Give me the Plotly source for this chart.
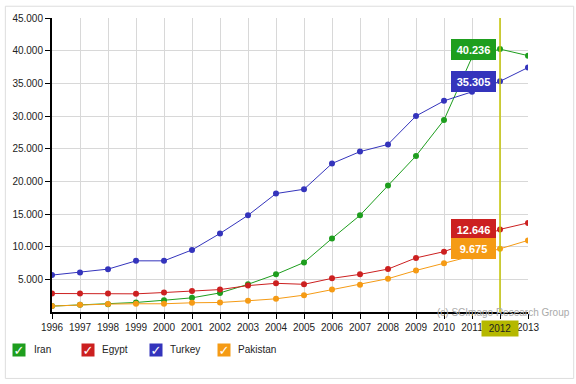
import plotly.graph_objects as go

years = list(range(1996, 2014))
iran = [900, 1100, 1200, 1460, 1800, 2170, 2920, 4240, 5760, 7580, 11260, 14800, 19350, 23890, 29390, 39000, 40236, 39240]
egypt = [2830, 2830, 2830, 2780, 2980, 3230, 3430, 4040, 4390, 4240, 5150, 5760, 6570, 8280, 9240, 10800, 12646, 13640]
turkey = [5650, 6060, 6560, 7830, 7830, 9500, 12020, 14800, 18130, 18790, 22730, 24550, 25650, 30000, 32320, 33700, 35305, 37420]
pakistan = [910, 1110, 1210, 1260, 1260, 1410, 1460, 1720, 2020, 2580, 3430, 4190, 5100, 6360, 7480, 8500, 9675, 10960]

series = [("Iran", iran, "#1e9e1e"), ("Egypt", egypt, "#cc2020"),
          ("Turkey", turkey, "#3434bc"), ("Pakistan", pakistan, "#f59b15")]
ytickvals = [5000, 10000, 15000, 20000, 25000, 30000, 35000, 40000, 45000]
yticktext = ["5.000", "10.000", "15.000", "20.000", "25.000", "30.000", "35.000", "40.000", "45.000"]
hover_year = 2012
label_text = {"Iran": "40.236", "Egypt": "12.646", "Turkey": "35.305", "Pakistan": "9.675"}

FONT = "Liberation Sans Narrow, Arial Narrow, sans-serif"
fig = go.Figure()
for name, vals, col in series:
    fig.add_trace(go.Scatter(x=years, y=vals, mode="lines+markers", name=name,
                             line=dict(color=col, width=1),
                             marker=dict(color=col, size=6), showlegend=False))

fig.add_shape(type="line", xref="x", yref="paper", x0=hover_year, x1=hover_year,
              y0=0, y1=1, line=dict(color="#c4c400", width=1.5))

for name, vals, col in series:
    v = vals[years.index(hover_year)]
    fig.add_annotation(x=hover_year, y=v, xref="x", yref="y", text="<b>%s</b>" % label_text[name],
                       showarrow=True, ax=-27, ay=0, axref="pixel", ayref="pixel",
                       arrowcolor=col, arrowhead=2, arrowwidth=2, arrowsize=2.2, standoff=2,
                       bgcolor=col, bordercolor=col, borderwidth=1, borderpad=1,
                       width=41, height=17,
                       font=dict(color="white", size=11, family=FONT))

fig.add_annotation(x=hover_year, y=0, xref="x", yref="paper", yanchor="top", yshift=-8,
                   text="2012", showarrow=False, bgcolor="#b5b800", width=34, height=13,
                   font=dict(color="#222", size=10, family=FONT))

fig.add_annotation(x=1.093, y=0.0, xref="paper", yref="paper", xanchor="right", yanchor="middle",
                   text="(c) SCImago Research Group", showarrow=False,
                   font=dict(color="#aaaaaa", size=10, family=FONT))

# legend (checkbox style)
leg_x = [-0.083, 0.06, 0.204, 0.346]
for (name, vals, col), lx in zip(series, leg_x):
    fig.add_annotation(x=lx, y=-0.128, xref="paper", yref="paper", xanchor="left", yanchor="middle",
                       text="<b>✓</b>", showarrow=False, bgcolor=col, width=12, height=12,
                       borderpad=0, font=dict(color="white", size=13, family="DejaVu Sans"))
    fig.add_annotation(x=lx + 0.04, y=-0.128, xref="paper", yref="paper", xanchor="left", yanchor="middle",
                       text=name, showarrow=False, font=dict(color="#222", size=10, family=FONT))

fig.update_layout(
    width=576, height=384, margin=dict(l=48, r=48, t=15, b=72),
    paper_bgcolor="white", plot_bgcolor="white",
    font=dict(family=FONT, size=10, color="#222"),
    showlegend=False,
    xaxis=dict(range=[1996, 2013], tickvals=years, ticktext=[str(y) for y in years],
               showgrid=True, gridcolor="#d8d8d8", gridwidth=1,
               showline=True, linecolor="black", linewidth=2,
               ticks="outside", ticklen=5, tickcolor="black", zeroline=False),
    yaxis=dict(range=[0, 45000], tickvals=ytickvals, ticktext=yticktext,
               showgrid=True, gridcolor="#d8d8d8", gridwidth=1,
               showline=True, linecolor="black", linewidth=2,
               ticks="outside", ticklen=5, tickcolor="black", zeroline=False),
)
fig.add_shape(type="rect", xref="paper", yref="paper", x0=-0.098, x1=1.096, y0=-0.226, y1=1.04,
              line=dict(color="#dddddd", width=1), layer="below")
fig.write_html("out.html", config={"displayModeBar": False},
               post_script="document.body.style.margin='0';")
